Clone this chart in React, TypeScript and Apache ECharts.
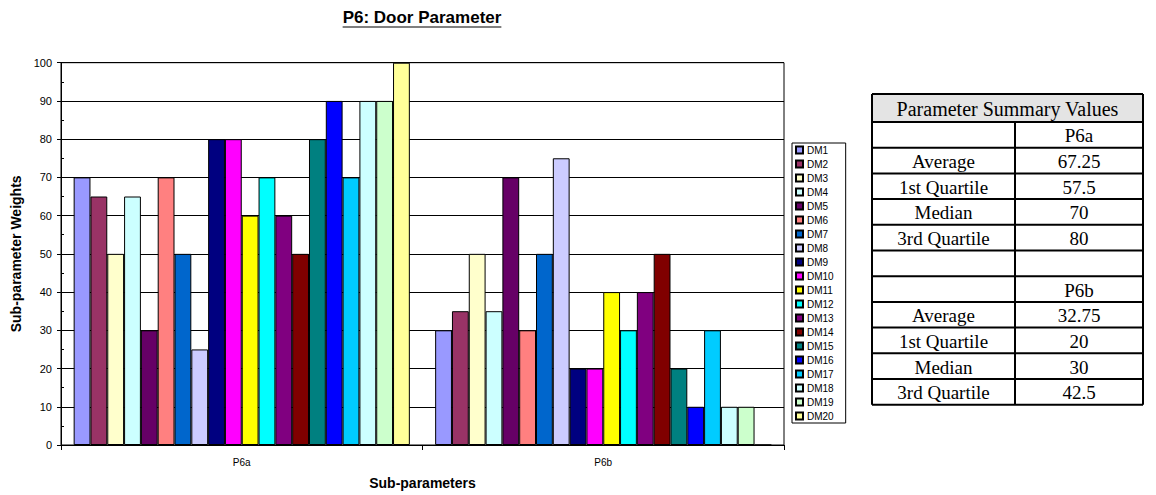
import React, { useEffect, useRef } from "react";
import * as echarts from "echarts";

const categories = ["P6a", "P6b"];
const seriesNames = [
  "DM1", "DM2", "DM3", "DM4", "DM5", "DM6", "DM7", "DM8", "DM9", "DM10",
  "DM11", "DM12", "DM13", "DM14", "DM15", "DM16", "DM17", "DM18", "DM19", "DM20",
];
const p6aValues = [70, 65, 50, 65, 30, 70, 50, 25, 80, 80, 60, 70, 60, 50, 80, 90, 70, 90, 90, 100];
const p6bValues = [30, 35, 50, 35, 70, 30, 50, 75, 20, 20, 40, 30, 40, 50, 20, 10, 30, 10, 10, 0];
const seriesColors = [
  "#9999FF", "#993366", "#FFFFCC", "#CCFFFF", "#660066", "#FF8080", "#0066CC", "#CCCCFF", "#000080", "#FF00FF",
  "#FFFF00", "#00FFFF", "#800080", "#800000", "#008080", "#0000FF", "#00CCFF", "#CCFFFF", "#CCFFCC", "#FFFF99",
];

const chartTitle = "P6: Door Parameter";
const yAxisTitle = "Sub-parameter Weights";
const xAxisTitle = "Sub-parameters";

const tableTitle = "Parameter Summary Values";
const statLabels = ["Average", "1st Quartile", "Median", "3rd Quartile"];
const p6aStats = ["67.25", "57.5", "70", "80"];
const p6bStats = ["32.75", "20", "30", "42.5"];

const SANS = "'Liberation Sans', Arial, sans-serif";
const SERIF = "'Liberation Serif', 'Times New Roman', serif";

function measure(text: string, font: string): number {
  const c = document.createElement("canvas");
  const ctx = c.getContext("2d");
  if (!ctx) return text.length * 9;
  ctx.font = font;
  return ctx.measureText(text).width;
}

function buildTable() {
  const x0 = 872, x1 = 1015, x2 = 1143;
  const top = 94, headerH = 28, rowH = 25.7;
  const rows: { label: string; value: string }[] = [];
  rows.push({ label: "", value: categories[0] });
  statLabels.forEach((l, i) => rows.push({ label: l, value: p6aStats[i] }));
  rows.push({ label: "", value: "" });
  rows.push({ label: "", value: categories[1] });
  statLabels.forEach((l, i) => rows.push({ label: l, value: p6bStats[i] }));
  const bottom = top + headerH + rows.length * rowH;
  const children: any[] = [];
  children.push({
    type: "rect",
    shape: { x: x0, y: top, width: x2 - x0, height: headerH },
    style: { fill: "#e4e4e4" },
  });
  children.push({
    type: "text",
    x: (x0 + x2) / 2,
    y: top + headerH / 2 + 1,
    style: { text: tableTitle, font: `20px ${SERIF}`, fill: "#000", align: "center", verticalAlign: "middle" },
  });
  rows.forEach((r, i) => {
    const yc = top + headerH + i * rowH + rowH / 2 + 1;
    if (r.label)
      children.push({
        type: "text",
        x: (x0 + x1) / 2,
        y: yc,
        style: { text: r.label, font: `19px ${SERIF}`, fill: "#000", align: "center", verticalAlign: "middle" },
      });
    if (r.value)
      children.push({
        type: "text",
        x: (x1 + x2) / 2,
        y: yc,
        style: { text: r.value, font: `19px ${SERIF}`, fill: "#000", align: "center", verticalAlign: "middle" },
      });
  });
  const lineStyle = { stroke: "#000", lineWidth: 2 };
  for (let i = 0; i <= rows.length; i++) {
    const y = top + headerH + i * rowH;
    children.push({ type: "line", shape: { x1: x0, y1: y, x2: x2, y2: y }, style: lineStyle });
  }
  children.push({ type: "line", shape: { x1: x0, y1: top, x2: x2, y2: top }, style: lineStyle });
  children.push({ type: "line", shape: { x1: x0, y1: top, x2: x0, y2: bottom }, style: lineStyle });
  children.push({ type: "line", shape: { x1: x2, y1: top, x2: x2, y2: bottom }, style: lineStyle });
  children.push({ type: "line", shape: { x1: x1, y1: top + headerH, x2: x1, y2: bottom }, style: lineStyle });
  return { type: "group", children };
}

export default function App() {
  const ref = useRef<HTMLDivElement>(null);
  useEffect(() => {
    if (!ref.current) return;
    const chart = echarts.init(ref.current, null, { renderer: "svg" });
    const titleFont = `bold 17px ${SANS}`;
    const titleW = measure(chartTitle, titleFont);
    const titleX = 422;
    const titleY = 17;
    const axisNameStyle = { fontFamily: SANS, fontSize: 14, fontWeight: "bold", color: "#000" };
    const option: any = {
      animation: false,
      backgroundColor: "#fff",
      grid: { left: 61, right: 372, top: 62.7, bottom: 49, show: true, borderColor: "#000", borderWidth: 1, backgroundColor: "transparent" },
      legend: {
        orient: "vertical",
        left: 792,
        top: 143,
        icon: "rect",
        itemWidth: 7,
        itemHeight: 7,
        itemGap: 4,
        padding: [2, 12, 2, 3],
        borderColor: "#000",
        borderWidth: 1,
        textStyle: { fontFamily: SANS, fontSize: 10, color: "#000", padding: [0, 0, 0, -1] },
        data: seriesNames,
      },
      xAxis: {
        type: "category",
        data: categories,
        boundaryGap: true,
        name: xAxisTitle,
        nameLocation: "middle",
        nameGap: 31,
        nameTextStyle: axisNameStyle,
        axisLine: { lineStyle: { color: "#000", width: 1 } },
        axisTick: { show: true, length: 5, lineStyle: { color: "#000" } },
        axisLabel: { fontFamily: SANS, fontSize: 10, color: "#000", margin: 12 },
      },
      yAxis: [
        {
          type: "value",
          min: 0,
          max: 100,
          interval: 10,
          name: yAxisTitle,
          nameLocation: "middle",
          nameGap: 36,
          nameRotate: 90,
          nameTextStyle: axisNameStyle,
          axisLine: { show: true, lineStyle: { color: "#000", width: 1 } },
          axisTick: { show: true, length: 4, lineStyle: { color: "#000" } },
          axisLabel: { fontFamily: SANS, fontSize: 11, color: "#000", margin: 9 },
          splitLine: { show: true, lineStyle: { color: "#000", width: 1 } },
        },
        {
          type: "value",
          min: 0,
          max: 100,
          interval: 5,
          position: "left",
          axisLine: { show: false },
          axisTick: { show: true, inside: true, length: 3, lineStyle: { color: "#000" } },
          axisLabel: { show: false },
          splitLine: { show: false },
        },
      ],
      graphic: [
        {
          type: "text",
          x: titleX,
          y: titleY,
          style: { text: chartTitle, font: titleFont, fill: "#000", align: "center", verticalAlign: "middle" },
        },
        {
          type: "line",
          shape: { x1: titleX - titleW / 2, y1: titleY + 10, x2: titleX + titleW / 2, y2: titleY + 10 },
          style: { stroke: "#000", lineWidth: 1.2 },
        },
        buildTable(),
      ],
      series: seriesNames.map((name, i) => ({
        type: "bar",
        name,
        data: [p6aValues[i], p6bValues[i]],
        barGap: 0,
        barCategoryGap: "7%",
        itemStyle: { color: seriesColors[i], borderColor: "#000", borderWidth: 1 },
        emphasis: { disabled: true },
      })),
    };
    chart.setOption(option);
    return () => chart.dispose();
  }, []);
  return <div ref={ref} style={{ position: "fixed", left: 0, top: 0, width: 1156, height: 495 }} />;
}
